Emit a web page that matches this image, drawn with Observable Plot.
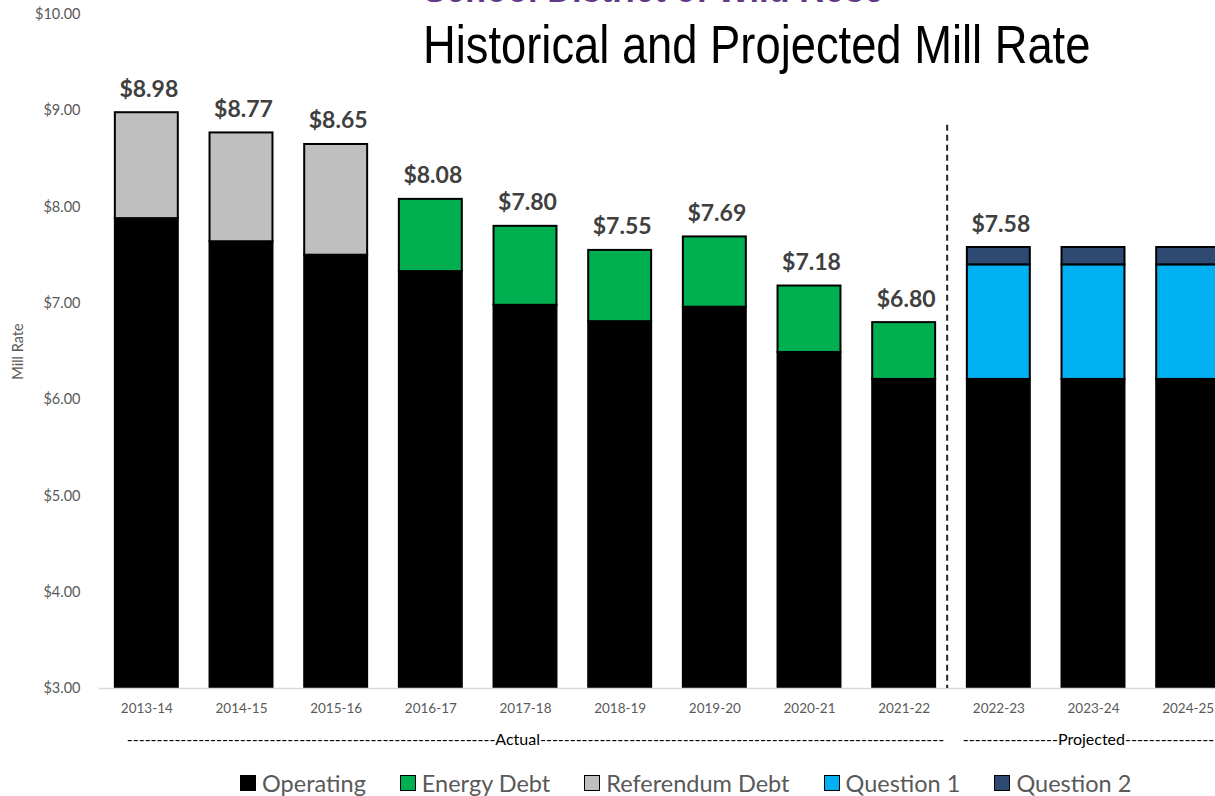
<!DOCTYPE html>
<html>
<head>
<meta charset="utf-8">
<script src="https://cdn.jsdelivr.net/npm/d3@7"></script>
<script src="https://cdn.jsdelivr.net/npm/@observablehq/plot@0.6"></script>
<style>
  html, body { margin: 0; padding: 0; background: #fff; overflow: hidden; }
  #wrap { position: relative; width: 1215px; height: 796px; overflow: hidden; font-family: Lato, "Open Sans", sans-serif; }
  #chart svg { display: block; overflow: hidden; }
  .kicker { position: absolute; left: 423px; top: -32px; font-family: "Liberation Sans", Arial, sans-serif; font-weight: bold; font-size: 40px; line-height: 40px; color: #5E3A87; white-space: nowrap; transform: scaleX(0.86); transform-origin: left top; }
  .title { position: absolute; left: 423px; top: 18px; font-family: "Liberation Sans", Arial, sans-serif; font-size: 53px; line-height: 53px; color: #000; white-space: nowrap; transform: scaleX(0.855); transform-origin: left top; }
  #legend { position: absolute; left: 240px; top: 765px; height: 36px; display: flex; align-items: center; gap: 34px; font-family: Lato, sans-serif; font-size: 23.5px; color: #595959; white-space: nowrap; }
  #legend .item { display: flex; align-items: center; }
  #legend .sw { width: 14px; height: 14px; border: 1.5px solid #000; margin-right: 6px; }
</style>
</head>
<body>
<div id="wrap">
  <div id="chart"></div>
  <div class="kicker">School District of Wild Rose</div>
  <div class="title">Historical and Projected Mill Rate</div>
  <div id="legend"></div>
</div>
<script>
const years = ["2013-14","2014-15","2015-16","2016-17","2017-18","2018-19","2019-20","2020-21","2021-22","2022-23","2023-24","2024-25"];
const operating      = [7.88, 7.64, 7.50, 7.33, 6.98, 6.81, 6.96, 6.49, 6.21, 6.21, 6.21, 6.21];
const energyDebt     = [0, 0, 0, 0.75, 0.82, 0.74, 0.73, 0.69, 0.59, 0, 0, 0];
const referendumDebt = [1.10, 1.13, 1.15, 0, 0, 0, 0, 0, 0, 0, 0, 0];
const question1      = [0, 0, 0, 0, 0, 0, 0, 0, 0, 1.19, 1.19, 1.19];
const question2      = [0, 0, 0, 0, 0, 0, 0, 0, 0, 0.18, 0.18, 0.18];
const totalLabels = ["$8.98","$8.77","$8.65","$8.08","$7.80","$7.55","$7.69","$7.18","$6.80","$7.58", null, null];
const seriesNames = ["Operating","Energy Debt","Referendum Debt","Question 1","Question 2"];
const seriesColors = ["#000000","#00B050","#BFBFBF","#00B0F0","#2E4A72"];
const yTicks = [3, 4, 5, 6, 7, 8, 9, 10];
const yDomain = [3, 10];
const dividerAfter = "2021-22";
const dividerTop = 8.85;
const periodActual = "-".repeat(62) + "Actual" + "-".repeat(68);
const periodProjected = "-".repeat(16) + "Projected" + "-".repeat(28);

const seriesValues = [operating, energyDebt, referendumDebt, question1, question2];
const rows = [];
years.forEach((yr, i) => {
  seriesNames.forEach((s, j) => {
    const v = seriesValues[j][i];
    if (v > 0) rows.push({year: yr, series: s, value: v});
  });
});
const labelRows = years.map((yr, i) => ({
  year: yr,
  total: seriesValues.reduce((a, arr) => a + arr[i], 0),
  label: totalLabels[i]
})).filter(d => d.label);

const plot = Plot.plot({
  width: 1215,
  height: 765,
  marginTop: 14,
  marginBottom: 77,
  marginLeft: 99,
  marginRight: 0,
  style: {fontFamily: "Lato, 'Open Sans', sans-serif", background: "#fff"},
  x: {domain: years, range: [99, 1235], paddingInner: 0.335, paddingOuter: 0.1675, round: false},
  y: {domain: yDomain},
  color: {domain: seriesNames, range: seriesColors},
  marks: [
    Plot.barY(rows, Plot.stackY({
      x: "year", y: "value", fill: "series", order: seriesNames,
      stroke: "#000", strokeWidth: 2, clip: true
    })),
    Plot.ruleY([yDomain[0]], {stroke: "#d9d9d9", strokeWidth: 1.5}),
    Plot.ruleX([dividerAfter], {x: d => d, dx: 43, y1: dividerTop, y2: yDomain[0], stroke: "#222", strokeWidth: 2, strokeDasharray: "6,4"}),
    Plot.text(labelRows, {
      x: "year", y: "total", text: "label", dx: 2, dy: -16, lineAnchor: "bottom",
      fontSize: 23, fontWeight: "bold", fill: "#404040"
    }),
    Plot.axisX({tickSize: 0, tickPadding: 15, fontSize: 13.5, fill: "#595959", label: null}),
    Plot.axisY({ticks: yTicks, tickFormat: d => "$" + d.toFixed(2), tickSize: 0, tickPadding: 19, fontSize: 14.5, fill: "#595959", label: null}),
    Plot.text(["Mill Rate"], {frameAnchor: "left", textAnchor: "middle", rotate: -90, dx: -81, fontSize: 14.5, fill: "#595959"}),
    Plot.text([periodActual], {x: ["2017-18"], text: d => d, textAnchor: "middle", frameAnchor: "bottom", dx: 10, dy: 56, fontSize: 16, fill: "#000"}),
    Plot.text([periodProjected], {x: ["2022-23"], text: d => d, textAnchor: "start", frameAnchor: "bottom", dx: -36, dy: 56, fontSize: 16, fill: "#000"})
  ]
});
document.getElementById("chart").appendChild(plot);

const legend = d3.select("#legend");
seriesNames.forEach((s, i) => {
  const it = legend.append("div").attr("class", "item");
  it.append("div").attr("class", "sw").style("background", seriesColors[i]);
  it.append("span").text(s);
});
</script>
</body>
</html>
